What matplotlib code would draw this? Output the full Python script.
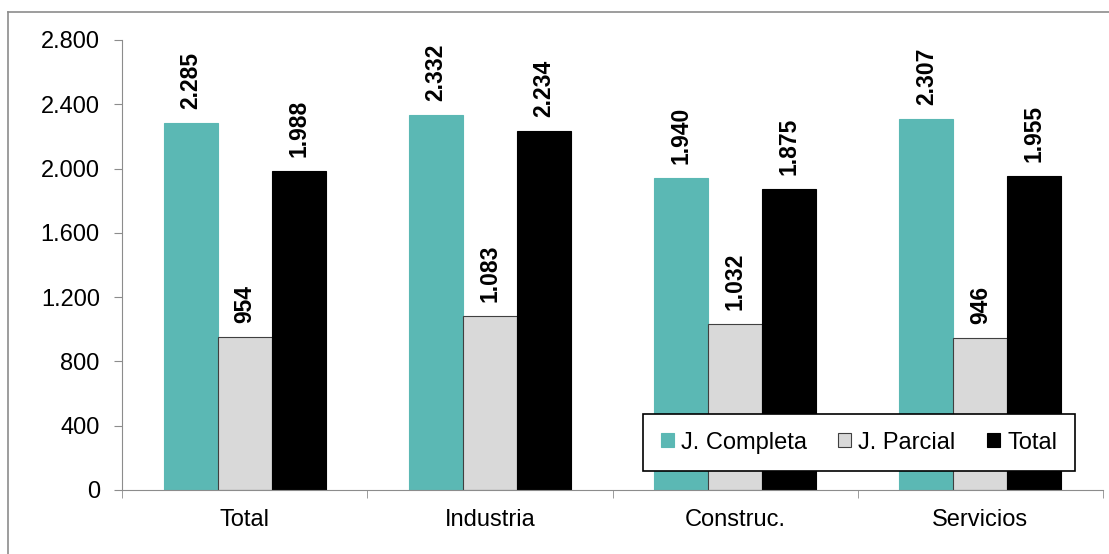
import matplotlib.pyplot as plt
import numpy as np
from matplotlib.lines import Line2D

plt.rcParams['font.family'] = ['Liberation Sans', 'DejaVu Sans']

categories = ['Total', 'Industria', 'Construc.', 'Servicios']
series_names = ['J. Completa', 'J. Parcial', 'Total']
completa = [2285, 2332, 1940, 2307]
parcial = [954, 1083, 1032, 946]
total = [1988, 2234, 1875, 1955]
y_ticks = [0, 400, 800, 1200, 1600, 2000, 2400, 2800]

def fmt(v):
    # thousands with a dot, as in Spanish
    return '{:,}'.format(v).replace(',', '.')

fig = plt.figure(figsize=(11.09, 5.54), dpi=100)
ax = fig.add_axes([122/1109, 1 - 490/554, (1103 - 122)/1109, (490 - 40)/554])

# outer frame of the chart area (cut at right and bottom)
fig.add_artist(Line2D([8/1109, 8/1109], [0, 1 - 12/554], color='#8c8c8c', lw=1.2, transform=fig.transFigure))
fig.add_artist(Line2D([8/1109, 1], [1 - 12/554, 1 - 12/554], color='#8c8c8c', lw=1.2, transform=fig.transFigure))

x = np.arange(len(categories))
w = 0.22
colors = ['#5BB8B4', '#D9D9D9', '#000000']
edges = ['#5BB8B4', '#404040', '#000000']
data = [completa, parcial, total]

for i, (vals, name) in enumerate(zip(data, series_names)):
    pos = x + (i - 1) * w
    ax.bar(pos, vals, width=w, color=colors[i], edgecolor=edges[i], linewidth=0.8, label=name, zorder=2)
    for p, v in zip(pos, vals):
        ax.annotate(fmt(v), (p, v), xytext=(0, 10), textcoords='offset points',
                    rotation=90, ha='center', va='bottom', fontsize=16.5, fontweight='bold')

ax.set_xlim(-0.5, len(categories) - 0.5)
ax.set_ylim(0, 2800)
ax.set_yticks(y_ticks)
ax.set_yticklabels([fmt(t) for t in y_ticks], fontsize=17)
ax.set_xticks(x)
ax.set_xticklabels(categories, fontsize=17)
ax.set_xticks(np.arange(len(categories) + 1) - 0.5, minor=True)
ax.tick_params(axis='x', which='major', length=0, pad=14)
ax.tick_params(axis='x', which='minor', length=6, color='#8c8c8c', direction='out')
ax.tick_params(axis='y', length=6, color='#8c8c8c', direction='out', pad=10)

for s in ['top', 'right']:
    ax.spines[s].set_visible(False)
ax.spines['left'].set_color('#8c8c8c')
ax.spines['bottom'].set_color('#8c8c8c')

leg = ax.legend(loc='upper left', bbox_to_anchor=((643 - 122)/981, (490 - 414)/450, (1075 - 643)/981, 0),
                mode='expand', ncol=3, fontsize=17, frameon=True, fancybox=False, framealpha=1,
                handlelength=0.55, handleheight=0.55, handletextpad=0.3, columnspacing=1.2,
                borderpad=0.75, borderaxespad=0)
leg.get_frame().set_edgecolor('black')
leg.get_frame().set_linewidth(1.2)

fig.savefig('out.png', dpi=100)
